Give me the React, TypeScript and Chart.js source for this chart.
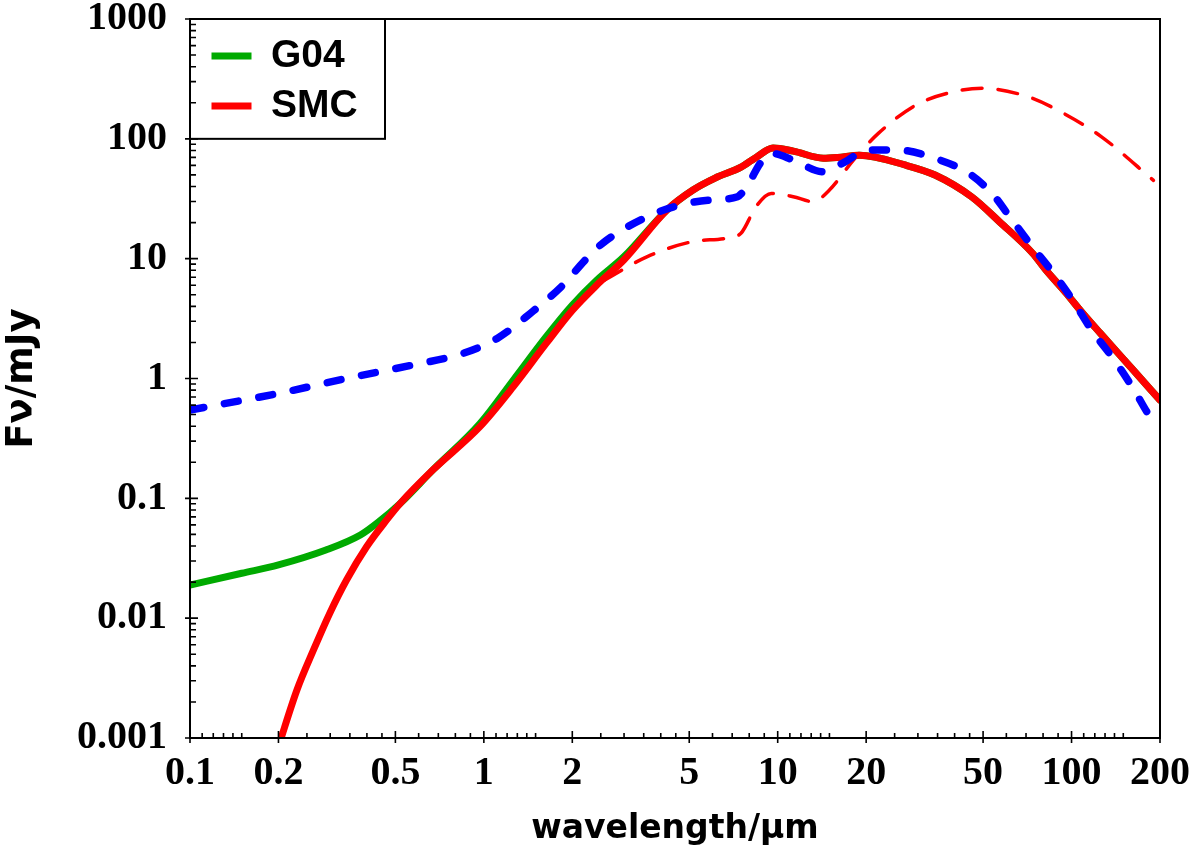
import React, { useEffect, useRef } from "react";
import { Chart, registerables } from "chart.js";

Chart.register(...registerables);

// ---- data (wavelength in micron, flux in mJy) ----
const g04Wave = [0.1, 0.15, 0.2, 0.29, 0.38, 0.44, 0.52, 0.67, 0.97, 1.26, 1.63, 2.0, 2.42, 3.0, 4.2, 5.15, 6.12, 7.5, 8.44, 9.64, 11.3, 14.3, 16, 19, 27.1, 34.3, 45.8, 57, 73.7, 81.8, 95.6, 109, 125, 162, 200];
const g04Flux = [0.0189, 0.0237, 0.0278, 0.037, 0.0494, 0.064, 0.091, 0.172, 0.42, 0.97, 2.23, 4.1, 6.6, 10.4, 25.5, 37.4, 47, 58, 70, 83.8, 79, 69, 70, 73, 60.5, 49.9, 32.7, 20.2, 11.1, 8.03, 5.2, 3.52, 2.4, 1.18, 0.66];

const smcWave = [0.2, 0.231, 0.263, 0.299, 0.341, 0.399, 0.467, 0.52, 0.67, 0.97, 1.26, 1.63, 2.0, 2.42, 3.0, 4.2, 5.15, 6.12, 7.5, 8.44, 9.64, 11.3, 14.3, 16, 19, 27.1, 34.3, 45.8, 57, 73.7, 81.8, 95.6, 109, 125, 162, 200];
const smcFlux = [0.00085, 0.0025, 0.0054, 0.011, 0.0208, 0.0394, 0.066, 0.091, 0.172, 0.396, 0.855, 1.96, 3.7, 6.0, 9.8, 25.5, 37.4, 47, 58, 70, 83.8, 79, 69, 70, 73, 60.5, 49.9, 32.7, 20.2, 11.1, 8.03, 5.2, 3.52, 2.4, 1.18, 0.66];

const blueWave = [0.1, 0.2, 0.34, 0.576, 0.85, 1.11, 1.44, 1.86, 2.2, 2.55, 3.6, 4.45, 5.9, 7.3, 7.97, 8.72, 9.5, 11.3, 14.2, 16.6, 20.3, 25.5, 34.3, 45.6, 54.8, 60.3, 73.7, 86.6, 100.8, 117, 137.5, 161, 189, 200];
const blueFlux = [0.546, 0.751, 1.0, 1.3, 1.62, 2.16, 3.5, 6.03, 9.6, 13.6, 22.4, 27.2, 30.9, 32.9, 42.6, 62.5, 75.7, 66.5, 53.2, 62.5, 80.7, 80.7, 68.7, 49.9, 32.9, 24, 12.5, 7.6, 4.52, 2.54, 1.51, 0.85, 0.45, 0.41];

const smcDashWave = [2.57, 3.6, 5.15, 6.67, 7.5, 8.44, 9.5, 11.3, 13.2, 15.0, 18.1, 22.0, 29.5, 39.7, 50, 70.9, 94, 126.5, 190];
const smcDashFlux = [6.6, 10.4, 13.9, 14.8, 16.3, 27.2, 35, 32.9, 29.9, 37.4, 66.5, 111, 191, 247, 264, 225, 163, 104, 45];

const xTickValues = [0.1, 0.2, 0.5, 1, 2, 5, 10, 20, 50, 100, 200];
const xTickLabels = ["0.1", "0.2", "0.5", "1", "2", "5", "10", "20", "50", "100", "200"];
const xMinorTicks = [
  0.11, 0.12, 0.13, 0.14, 0.15, 0.25, 0.3, 0.35, 0.4, 0.45, 0.6, 0.7, 0.8, 0.9,
  1.1, 1.2, 1.3, 1.4, 1.5, 2.5, 3, 3.5, 4, 4.5, 6, 7, 8, 9,
  11, 12, 13, 14, 15, 25, 30, 35, 40, 45, 60, 70, 80, 90,
  110, 120, 130, 140, 150,
];
const yTickValues = [0.001, 0.01, 0.1, 1, 10, 100, 1000];
const yTickLabels = ["0.001", "0.01", "0.1", "1", "10", "100", "1000"];
const yMinorMultipliers = [2, 3, 4, 5, 6, 7, 8, 9];

const seriesLabels = ["G04", "SMC", "SMC dust (dashed)", "G04 dust (dashed)"];

const toPoints = (w: number[], f: number[]) => w.map((x, i) => ({ x, y: f[i] }));

const tickFont = { family: "'Liberation Serif', 'DejaVu Serif', serif", size: 40, weight: "bold" as const };

const framePlugin = {
  id: "framePlugin",
  afterLayout(chart: any) {
    const lg = chart.legend;
    if (lg) {
      lg.left = chart.chartArea.left + 10.5;
      lg.top = chart.chartArea.top + 6.5;
    }
  },
  afterDraw(chart: any) {
    const { ctx, chartArea, scales } = chart;
    const { left, right, top, bottom } = chartArea;
    const xs = scales.x;
    const ys = scales.y;
    ctx.save();
    ctx.strokeStyle = "#000";
    ctx.lineWidth = 2;
    ctx.strokeRect(left, top, right - left, bottom - top);
    ctx.lineWidth = 1.6;
    ctx.beginPath();
    xTickValues.forEach((v) => {
      const px = xs.getPixelForValue(v);
      ctx.moveTo(px, bottom + 5);
      ctx.lineTo(px, bottom - 7);
    });
    xMinorTicks.forEach((v) => {
      const px = xs.getPixelForValue(v);
      ctx.moveTo(px, bottom);
      ctx.lineTo(px, bottom - 5);
    });
    yTickValues.forEach((v) => {
      const py = ys.getPixelForValue(v);
      ctx.moveTo(left - 5, py);
      ctx.lineTo(left + 8, py);
    });
    yTickValues.slice(0, -1).forEach((d) => {
      yMinorMultipliers.forEach((m) => {
        const py = ys.getPixelForValue(d * m);
        ctx.moveTo(left, py);
        ctx.lineTo(left + 6, py);
      });
    });
    ctx.stroke();
    // legend frame
    ctx.lineWidth = 2;
    ctx.strokeRect(left, top, 195, ys.getPixelForValue(100) - top);
    ctx.restore();
  },
};

export default function App() {
  const canvasRef = useRef<HTMLCanvasElement | null>(null);

  useEffect(() => {
    if (!canvasRef.current) return;
    Chart.defaults.color = "#000";
    const chart = new Chart(canvasRef.current, {
      type: "line",
      data: {
        datasets: [
          {
            label: seriesLabels[0],
            data: toPoints(g04Wave, g04Flux),
            borderColor: "#00AA00",
            backgroundColor: "#00AA00",
            borderWidth: 7,
            borderCapStyle: "round",
            borderJoinStyle: "round",
            pointRadius: 0,
            cubicInterpolationMode: "monotone",
            order: 4,
          },
          {
            label: seriesLabels[1],
            data: toPoints(smcWave, smcFlux),
            borderColor: "#FF0000",
            backgroundColor: "#FF0000",
            borderWidth: 7,
            borderCapStyle: "round",
            borderJoinStyle: "round",
            pointRadius: 0,
            cubicInterpolationMode: "monotone",
            order: 3,
          },
          {
            label: seriesLabels[2],
            data: toPoints(smcDashWave, smcDashFlux),
            borderColor: "#FF0000",
            backgroundColor: "#FF0000",
            borderWidth: 3.5,
            borderDash: [20, 16],
            borderCapStyle: "round",
            pointRadius: 0,
            cubicInterpolationMode: "monotone",
            order: 2,
          },
          {
            label: seriesLabels[3],
            data: toPoints(blueWave, blueFlux),
            borderColor: "#0000FF",
            backgroundColor: "#0000FF",
            borderWidth: 7.5,
            borderDash: [14, 21],
            borderCapStyle: "round",
            pointRadius: 0,
            cubicInterpolationMode: "monotone",
            order: 1,
          },
        ],
      },
      options: {
        animation: false,
        responsive: true,
        maintainAspectRatio: false,
        events: [],
        layout: { padding: { top: 19, right: 40, left: 0, bottom: 0 } },
        scales: {
          x: {
            type: "logarithmic",
            min: 0.1,
            max: 200,
            afterBuildTicks: (scale: any) => {
              scale.ticks = xTickValues.map((v) => ({ value: v }));
            },
            afterFit: (scale: any) => {
              scale.height = 117;
              scale.paddingLeft = 0;
              scale.paddingRight = 0;
            },
            grid: { display: false, drawTicks: false },
            border: { display: false },
            ticks: {
              autoSkip: false,
              maxRotation: 0,
              padding: 12,
              font: tickFont,
              color: "#000",
              callback: (_v: any, i: number) => xTickLabels[i],
            },
            title: {
              display: true,
              text: "wavelength/μm",
              color: "#000",
              font: { family: "'DejaVu Sans', sans-serif", size: 33, weight: "bold" },
              padding: { top: 0, bottom: 6 },
            },
          },
          y: {
            type: "logarithmic",
            min: 0.001,
            max: 1000,
            afterBuildTicks: (scale: any) => {
              scale.ticks = yTickValues.map((v) => ({ value: v }));
            },
            afterFit: (scale: any) => {
              scale.width = 190;
              scale.paddingTop = 0;
              scale.paddingBottom = 0;
            },
            grid: { display: false, drawTicks: false },
            border: { display: false },
            ticks: {
              autoSkip: false,
              padding: 23,
              font: tickFont,
              color: "#000",
              callback: (_v: any, i: number) => yTickLabels[i],
            },
            title: {
              display: true,
              text: "Fν/mJy",
              color: "#000",
              font: { family: "'DejaVu Sans', sans-serif", size: 37, weight: "bold" },
              padding: { top: 0, bottom: 0 },
            },
          },
        },
        plugins: {
          tooltip: { enabled: false },
          legend: {
            position: "chartArea",
            align: "start",
            labels: {
              usePointStyle: true,
              pointStyle: "line",
              pointStyleWidth: 40,
              boxWidth: 40,
              boxHeight: 39,
              padding: 11,
              color: "#000",
              font: { family: "'Liberation Sans', Arial, sans-serif", size: 39, weight: "bold" },
              filter: (item: any) => item.text === "G04" || item.text === "SMC",
              sort: (a: any, b: any) => a.datasetIndex - b.datasetIndex,
            },
          },
        },
      } as any,
      plugins: [framePlugin],
    });
    return () => chart.destroy();
  }, []);

  return (
    <div style={{ position: "absolute", left: 0, top: 0, width: 1200, height: 855, background: "#fff" }}>
      <canvas ref={canvasRef} />
    </div>
  );
}
